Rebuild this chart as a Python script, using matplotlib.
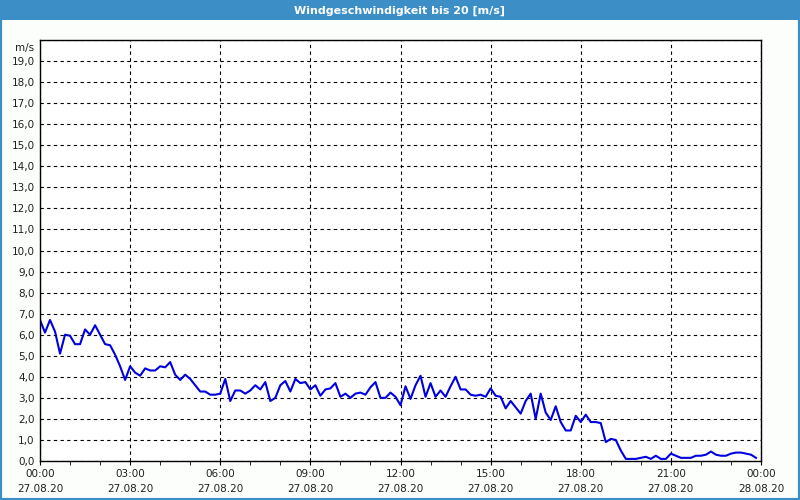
import numpy as np
import pandas as pd
import matplotlib
matplotlib.use("Agg")
from matplotlib import pyplot as plt
import matplotlib.dates as mdates
from matplotlib.patches import Rectangle
from matplotlib.ticker import FuncFormatter, MultipleLocator

# wind speed in m/s, one value every 10 minutes from 27.08.20 00:00
speed = [
    6.7, 6.1, 6.7, 6.15, 5.1, 6.0, 5.95, 5.55, 5.55, 6.25, 6.0, 6.45,
    6.0, 5.55, 5.5, 5.05, 4.5, 3.85, 4.5, 4.2, 4.05, 4.4, 4.3, 4.3,
    4.5, 4.45, 4.7, 4.1, 3.85, 4.1, 3.9, 3.6, 3.3, 3.3, 3.15, 3.15,
    3.2, 3.9, 2.85, 3.35, 3.35, 3.2, 3.35, 3.6, 3.4, 3.75, 2.85, 3.0,
    3.6, 3.8, 3.3, 3.9, 3.7, 3.75, 3.4, 3.6, 3.1, 3.4, 3.45, 3.7,
    3.05, 3.2, 3.0, 3.2, 3.25, 3.15, 3.5, 3.75, 3.0, 3.0, 3.25, 3.05,
    2.65, 3.55, 2.95, 3.6, 4.05, 3.05, 3.7, 3.05, 3.35, 3.05, 3.55, 4.0,
    3.4, 3.4, 3.15, 3.1, 3.15, 3.05, 3.45, 3.1, 3.05, 2.5, 2.85, 2.55,
    2.25, 2.85, 3.2, 2.0, 3.2, 2.3, 1.95, 2.6, 1.85, 1.45, 1.45, 2.15,
    1.85, 2.2, 1.85, 1.85, 1.8, 0.9, 1.05, 1.0, 0.5, 0.1, 0.1, 0.1,
    0.15, 0.2, 0.1, 0.25, 0.1, 0.1, 0.35, 0.25, 0.15, 0.15, 0.15, 0.25,
    0.25, 0.3, 0.45, 0.3, 0.25, 0.25, 0.35, 0.4, 0.4, 0.35, 0.3, 0.15,
]
times = pd.date_range("2020-08-27 00:00", periods=len(speed), freq="10min")
start = pd.Timestamp("2020-08-27 00:00")
end = pd.Timestamp("2020-08-28 00:00")
title = "Windgeschwindigkeit bis 20 [m/s]"
unit = "m/s"

blue = "#3b8fc6"
text_col = "#202020"

fig = plt.figure(figsize=(8, 5), dpi=100, facecolor="#fcfefc")

# window frame and title bar
fig.patches.append(Rectangle((0, 0), 1, 1, transform=fig.transFigure,
                             fill=False, edgecolor=blue, linewidth=3, zorder=0))
fig.patches.append(Rectangle((0, 0.96), 1, 0.04, transform=fig.transFigure,
                             facecolor=blue, edgecolor="none", zorder=1))
fig.text(0.5, 0.979, title, ha="center", va="center", color="white",
         fontsize=8, fontweight="bold")

ax = fig.add_axes([0.05, 0.078, 0.90125, 0.842])
ax.plot(times, speed, color="#0000e0", linewidth=1.5)

ax.set_xlim(start, end)
ax.set_ylim(0, 20)

ax.yaxis.set_major_locator(MultipleLocator(1))
ax.yaxis.set_major_formatter(FuncFormatter(
    lambda v, p: "" if v >= 20 else f"{v:.1f}".replace(".", ",")))
ax.xaxis.set_major_locator(mdates.HourLocator(byhour=range(0, 24, 3)))
ax.xaxis.set_minor_locator(mdates.HourLocator())
ax.xaxis.set_major_formatter(mdates.DateFormatter("%H:%M\n%d.%m.%y"))

ax.tick_params(axis="y", length=0, pad=4, labelsize=7.5, labelcolor=text_col)
ax.tick_params(axis="x", which="both", length=3, direction="out",
               color="black", pad=3, labelsize=7.5, labelcolor=text_col)
for lab in ax.get_xticklabels():
    lab.set_linespacing(1.6)

ax.grid(True, which="major", color="black", linestyle=(0, (3, 3)), linewidth=0.8)
for s in ax.spines.values():
    s.set_linewidth(1)
ax.text(-0.008, 0.98, unit, transform=ax.transAxes, ha="right", va="center",
        fontsize=7.5, color=text_col)

fig.savefig("out.png", dpi=100, facecolor=fig.get_facecolor())
